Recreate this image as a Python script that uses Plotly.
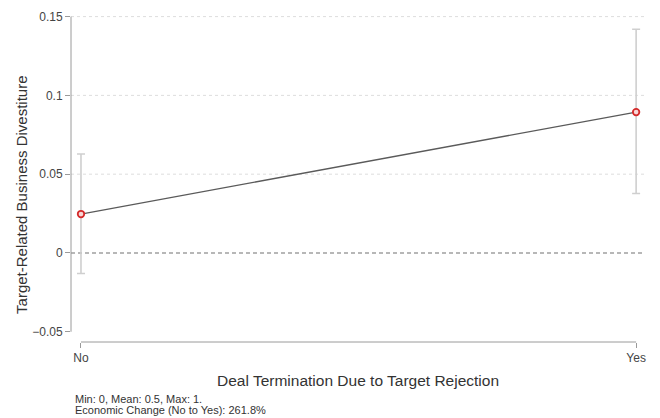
import plotly.graph_objects as go

# Predicted values with confidence intervals
categories = ["No", "Yes"]
x_pos = [0, 1]
estimates = [0.0247, 0.0894]
ci_upper = [0.0628, 0.1420]
ci_lower = [-0.0130, 0.0377]

y_ticks = [-0.05, 0, 0.05, 0.1, 0.15]
y_tick_text = ["\u22120.05", "0", "0.05", "0.1", "0.15"]

x_title = "Deal Termination Due to Target Rejection"
y_title = "Target-Related Business Divestiture"
note_1 = "Min: 0, Mean: 0.5, Max: 1."
note_2 = "Economic Change (No to Yes): 261.8%"

FONT = "Arial, Liberation Sans, sans-serif"

err_plus = [u - e for u, e in zip(ci_upper, estimates)]
err_minus = [e - l for e, l in zip(estimates, ci_lower)]

fig = go.Figure()

# confidence interval bars
fig.add_trace(go.Scatter(
    x=x_pos, y=estimates, mode="markers",
    marker=dict(size=1, color="rgba(0,0,0,0)"),
    error_y=dict(type="data", symmetric=False, array=err_plus, arrayminus=err_minus,
                 color="#cfcfcf", thickness=1.6, width=4),
    hoverinfo="skip", showlegend=False,
))
# connecting line
fig.add_trace(go.Scatter(
    x=x_pos, y=estimates, mode="lines",
    line=dict(color="#5a5a5a", width=1.3),
    hoverinfo="skip", showlegend=False,
))
# point estimates
fig.add_trace(go.Scatter(
    x=x_pos, y=estimates, mode="markers",
    marker=dict(size=6.5, color="#f7d6d6", symbol="circle",
                line=dict(color="#d42a2a", width=1.8)),
    showlegend=False,
))

shapes = []
# dotted horizontal grid at positive ticks
for v in y_ticks:
    if v > 0:
        shapes.append(dict(type="line", xref="paper", yref="y", x0=0, x1=1, y0=v, y1=v,
                           line=dict(color="#dddddd", width=1, dash="dot"), layer="below"))
# reference line at zero
shapes.append(dict(type="line", xref="paper", yref="y", x0=0, x1=1, y0=0, y1=0,
                   line=dict(color="#707070", width=1.1, dash="4px,3px"), layer="below"))
# y axis spine spanning the tick range
shapes.append(dict(type="line", xref="paper", yref="y", x0=0, x1=0,
                   y0=min(y_ticks), y1=max(y_ticks),
                   line=dict(color="#9a9a9a", width=1)))
# x axis spine spanning the categories
shapes.append(dict(type="line", xref="x", yref="paper", x0=x_pos[0], x1=x_pos[-1],
                   y0=0, y1=0, line=dict(color="#9a9a9a", width=1)))

annotations = [
    dict(text=x_title, xref="paper", yref="paper", x=0.5, y=-0.115,
         xanchor="center", yanchor="middle", showarrow=False,
         font=dict(family=FONT, size=15.5, color="#333333")),
    dict(text=y_title, xref="paper", yref="paper", x=-0.0854, y=0.435, textangle=-90,
         xanchor="center", yanchor="middle", showarrow=False,
         font=dict(family=FONT, size=15, color="#333333")),
    dict(text=note_1, xref="paper", yref="paper", x=0.003, y=-0.1686,
         xanchor="left", yanchor="middle", showarrow=False,
         font=dict(family=FONT, size=11, color="#333333")),
    dict(text=note_2, xref="paper", yref="paper", x=0.003, y=-0.201,
         xanchor="left", yanchor="middle", showarrow=False,
         font=dict(family=FONT, size=11, color="#333333")),
]

fig.update_layout(
    width=660, height=418,
    margin=dict(l=71, r=15, t=4, b=76),
    paper_bgcolor="white", plot_bgcolor="white",
    shapes=shapes, annotations=annotations,
    xaxis=dict(range=[-0.018, 1.016], tickvals=x_pos, ticktext=categories,
               showgrid=False, zeroline=False, showline=False,
               ticks="outside", ticklen=5, tickcolor="#9a9a9a",
               tickfont=dict(family=FONT, size=12, color="#444444")),
    yaxis=dict(range=[-0.0565, 0.158], tickvals=y_ticks, ticktext=y_tick_text,
               showgrid=False, zeroline=False, showline=False,
               ticks="outside", ticklen=5, tickcolor="#9a9a9a",
               tickfont=dict(family=FONT, size=12, color="#444444")),
)

fig.write_html("out.html")
